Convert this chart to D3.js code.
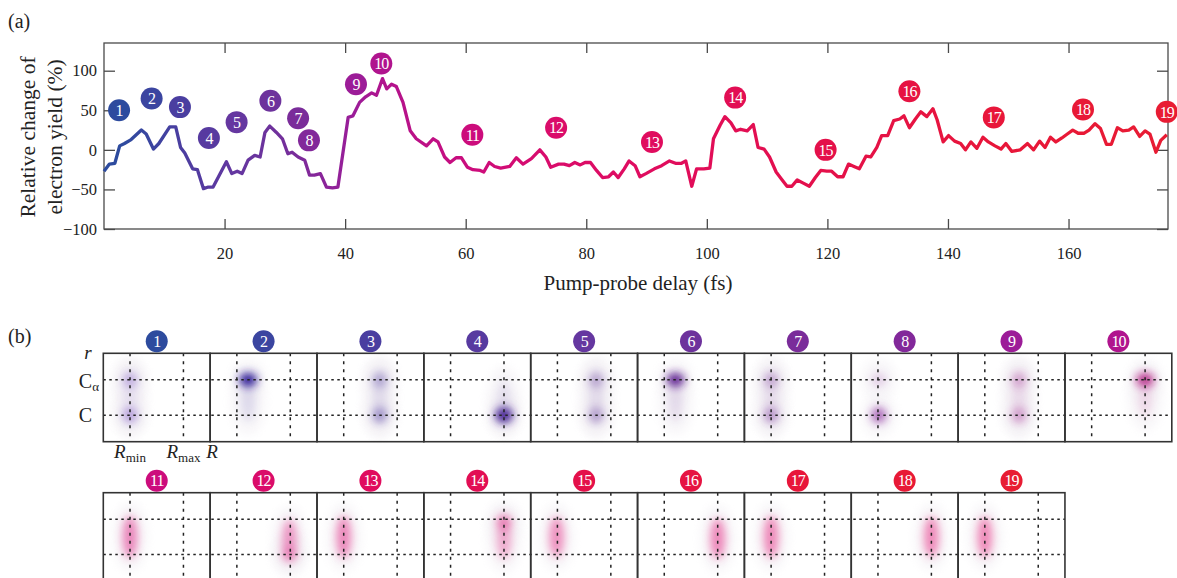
<!DOCTYPE html>
<html>
<head>
<meta charset="utf-8">
<script src="https://cdn.jsdelivr.net/npm/d3@7"></script>
<style>
  body { margin: 0; background: #fff; }
  text { font-family: "Liberation Serif", "Times New Roman", Times, "DejaVu Serif", serif; fill: #222; }
</style>
</head>
<body>
<svg id="chart" width="1177" height="578"></svg>
<script>
// ---- panel (a) data: pump-probe delay (fs) vs relative change of yield (%)
const delay = [0, 0.9, 1.8, 2.6, 3.4, 4.5, 6.2, 7.0, 8.2, 9.1, 10.9, 11.9, 12.7, 13.4, 14.7, 15.5, 16.5, 17.3, 18.1,
  20.3, 21.2, 22.1, 22.9, 23.9, 25.0, 25.9, 26.7, 27.5, 28.6, 29.6, 30.5, 31.2, 32.2, 33.3, 34.1, 34.9, 35.9, 36.9,
  37.9, 38.8, 40.5, 41.3, 42.4, 43.4, 44.4, 45.2, 46.2, 46.9, 47.7, 48.5, 49.6, 50.8, 51.8, 53.5, 54.6, 55.4, 56.5,
  57.4, 58.4, 59.3, 60.3, 61.2, 62.4, 63.0, 63.9, 64.8, 65.8, 67.3, 68.4, 69.5, 70.9, 72.3, 73.3, 74.1, 75.4, 76.3,
  77.2, 78.1, 79.0, 79.8, 80.7, 81.7, 82.7, 83.7, 84.5, 85.3, 86.3, 87.1, 88.1, 88.9, 89.9, 91.3, 92.5, 93.8, 94.8,
  95.8, 96.5, 97.5, 98.3, 99.5, 100.5, 101.1, 102.2, 103.0, 104.0, 104.8, 105.6, 106.7, 107.7, 108.5, 109.5, 110.4,
  111.5, 112.4, 113.3, 114.1, 115.0, 116.0, 117.0, 118.0, 118.9, 119.9, 120.7, 121.7, 122.6, 123.5, 124.4, 125.3,
  126.4, 127.2, 128.2, 129.0, 130.0, 131.0, 132.0, 132.7, 133.6, 134.6, 135.5, 136.5, 137.5, 138.2, 139.2, 140.1,
  141.1, 142.1, 142.9, 143.8, 144.8, 145.8, 146.7, 147.8, 148.8, 149.6, 150.6, 152.0, 153.2, 154.2, 155.2, 156.1,
  157.0, 157.9, 158.9, 159.8, 160.7, 161.6, 162.6, 163.4, 164.4, 165.3, 166.3, 167.1, 168.1, 169.0, 170.0, 170.8,
  171.8, 172.7, 173.5, 174.5, 175.3, 176.3];
const change = [-27, -18, -17, 5, 8, 13, 25, 20, 1, 8, 29, 29, 3, -4, -24, -25, -49, -47, -47,
  -15, -30, -27, -30, -13, -7, -9, 22, 30, 22, 14, -5, -3, -9, -13, -32, -32, -30, -47,
  -48, -47, 41, 43, 60, 67, 72, 69, 90, 77, 83, 80, 60, 24, 14, 5, 14, 10, -9,
  -16, -10, -10, -22, -25, -26, -28, -16, -21, -23, -21, -10, -18, -11, 0, -9, -22, -18, -18,
  -20, -16, -19, -16, -16, -26, -35, -34, -28, -35, -24, -14, -20, -34, -30, -24, -20, -14, -17,
  -17, -14, -46, -24, -24, -23, 14, 31, 42, 34, 24, 26, 24, 32, 3, 1, -9,
  -28, -37, -46, -46, -38, -42, -46, -35, -26, -27, -27, -34, -34, -18, -21, -24,
  -8, -9, 3, 18, 18, 37, 39, 43, 28, 39, 48, 42, 52, 38, 10, 18,
  11, 8, 0, 10, 2, 16, 10, 5, 1, 8, -2, 0, 8, 0, 11, 3,
  16, 10, 15, 20, 25, 21, 21, 25, 33, 27, 7, 7, 28, 24, 25, 29,
  17, 24, 20, -3, 12, 19];

const labelDelay = [2.5, 7.9, 12.6, 17.4, 22.0, 27.6, 32.2, 34.0, 41.8, 46.0, 61.1, 75.0, 90.9, 104.7, 119.7, 133.6, 147.6, 162.4, 176.3];
const labelChange = [50, 65, 54, 15, 35, 62, 40, 12, 83, 109, 19, 28, 10, 66, 0, 74, 41, 51, 48];
const labelColors = ['#2d4b9e', '#3b45a0', '#4a3ea0', '#573aa0', '#6537a0', '#6d329c', '#7a2c9a', '#82289a', '#9c1c98',
  '#b0148e', '#cc0c7c', '#da0c6a', '#e00c5e', '#e20e54', '#e4104a', '#e61342', '#e8163a', '#e81936', '#e81c33'];

const xTicks = [20, 40, 60, 80, 100, 120, 140, 160];
const yTicks = [-100, -50, 0, 50, 100];

// ---- panel (b) data: density blobs, R in units (Rmin = 1, Rmax = 3), r in units (Cα = 3, C = 7)
const blobPanel = [1, 1, 1, 2, 2, 3, 3, 3, 4, 4, 5, 5, 5, 6, 6, 7, 7, 7, 8, 8, 9, 9, 9, 10, 10,
  11, 12, 12, 13, 14, 14, 15, 16, 17, 18, 19];
const blobR = [1, 1, 1, 1.42, 1.42, 2.35, 2.35, 2.35, 3, 3, 2.45, 2.45, 2.45, 1.42, 1.42, 1, 1, 1, 1.03, 1.03, 2.28, 2.28, 2.28, 3, 3,
  1, 2.97, 2.97, 1, 3, 3, 0.97, 3, 1, 3, 1];
const blobLevel = [3, 7, 5, 3, 5.5, 3, 7, 5, 7, 5.5, 3, 7, 5, 3, 5.5, 3, 7, 5, 3, 7, 3, 7, 5, 3, 5,
  5, 5.3, 7, 5, 3.3, 5.3, 5, 5.2, 5, 5, 5];
const blobHeight = [0.9, 0.9, 3, 0.8, 2.2, 0.9, 0.9, 3, 0.9, 2.5, 0.9, 0.9, 3, 0.8, 2.2, 0.9, 0.9, 3, 0.8, 0.9, 0.9, 0.9, 3, 0.8, 2.2,
  2.4, 2.3, 0.9, 2.4, 0.9, 2.2, 2.3, 2.3, 2.4, 2.3, 2.3];
const blobWeight = [0.35, 0.45, 0.1, 1, 0.12, 0.3, 0.4, 0.1, 1, 0.1, 0.3, 0.35, 0.1, 0.95, 0.12, 0.3, 0.4, 0.1, 0.2, 0.7, 0.3, 0.35, 0.1, 0.85, 0.12,
  0.6, 0.5, 0.35, 0.6, 0.55, 0.4, 0.55, 0.6, 0.6, 0.6, 0.6];

const svg = d3.select('#chart');
const axisColor = '#4a4a4a';

// ================= panel (a)
const x = d3.scaleLinear().domain([0, 176.5]).range([104, 1168]);
const y = d3.scaleLinear().domain([-100, 135]).range([229, 43]);

svg.append('text').attr('x', 8).attr('y', 28).style('font-size', '20px').text('(a)');

const defs = svg.append('defs');
const grad = defs.append('linearGradient')
  .attr('id', 'lineGrad')
  .attr('gradientUnits', 'userSpaceOnUse')
  .attr('x1', x(0)).attr('x2', x(176.5)).attr('y1', 0).attr('y2', 0);
grad.selectAll('stop')
  .data(labelDelay)
  .enter()
  .append('stop')
  .attr('offset', d => (x(d) - x(0)) / (x(176.5) - x(0)))
  .attr('stop-color', (d, i) => labelColors[i]);

// axes: ticks point inward on all four sides
const bottomAxis = svg.append('g')
  .attr('transform', `translate(0, ${y(-100)})`)
  .call(d3.axisBottom(x).tickValues(xTicks).tickSizeInner(-10).tickSizeOuter(0).tickPadding(18));
const topAxis = svg.append('g')
  .attr('transform', `translate(0, ${y(135)})`)
  .call(d3.axisTop(x).tickValues(xTicks).tickSizeInner(-10).tickSizeOuter(0).tickFormat(''));
const leftAxis = svg.append('g')
  .attr('transform', `translate(${x(0)}, 0)`)
  .call(d3.axisLeft(y).tickValues(yTicks).tickSizeInner(-11).tickSizeOuter(0).tickPadding(7));
const rightAxis = svg.append('g')
  .attr('transform', `translate(${x(176.5)}, 0)`)
  .call(d3.axisRight(y).tickValues(yTicks).tickSizeInner(-11).tickSizeOuter(0).tickFormat(''));

[bottomAxis, topAxis, leftAxis, rightAxis].forEach(g => {
  g.attr('font-family', null);
  g.select('.domain').remove();
  g.selectAll('.tick line').attr('stroke', axisColor).attr('stroke-width', 1.3);
  g.selectAll('.tick text')
    .style('font-size', '16.5px')
    .attr('fill', '#222');
});

svg.append('rect')
  .attr('x', x(0)).attr('y', y(135))
  .attr('width', x(176.5) - x(0)).attr('height', y(-100) - y(135))
  .attr('fill', 'none').attr('stroke', axisColor).attr('stroke-width', 1.3);

// axis titles
svg.append('text')
  .attr('x', (x(0) + x(176.5)) / 2 + 2).attr('y', 290)
  .attr('text-anchor', 'middle')
  .style('font-size', '21px')
  .text('Pump-probe delay (fs)');
const yTitle = svg.append('text')
  .attr('transform', 'translate(0, 137) rotate(-90)')
  .attr('text-anchor', 'middle')
  .style('font-size', '21.5px');
yTitle.append('tspan').attr('x', 0).attr('y', 35).text('Relative change of');
yTitle.append('tspan').attr('x', 0).attr('y', 62).text('electron yield (%)');

// the curve
const line = d3.line()
  .x((d, i) => x(delay[i]))
  .y(d => y(d));
svg.append('path')
  .datum(change)
  .attr('d', line)
  .attr('fill', 'none')
  .attr('stroke', 'url(#lineGrad)')
  .attr('stroke-width', 3.3)
  .attr('stroke-linejoin', 'round');

// numbered markers
const marks = svg.selectAll('.mark')
  .data(labelDelay)
  .enter()
  .append('g')
  .attr('class', 'mark')
  .attr('transform', (d, i) => `translate(${x(d)}, ${y(labelChange[i])})`);
marks.append('circle').attr('r', 11).attr('fill', (d, i) => labelColors[i]);
marks.append('text')
  .attr('text-anchor', 'middle')
  .attr('dy', '0.36em')
  .style('font-size', '16px')
  .style('fill', '#fff')
  .style('letter-spacing', '-1px')
  .text((d, i) => i + 1);

// ================= panel (b)
svg.append('text').attr('x', 8).attr('y', 343).style('font-size', '20px').text('(b)');

const rowTop = [353.3, 492.7];
const boxW = 106.85;
const boxH = 88.4;
const col = d3.scaleLinear().domain([0, 10]).range([103.3, 103.3 + 10 * boxW]);
const bx = d3.scaleLinear().domain([0, 4]).range([0, boxW]);
const by = d3.scaleLinear().domain([0, 10]).range([0, boxH]);
const blobColor = d3.scaleLinear()
  .domain([1, 2, 4, 6, 8, 10, 11, 19])
  .range(['#7a50c4', '#2e1f96', '#4a2596', '#5a1f8e', '#8a2a9e', '#b0127e', '#e03a92', '#e8408e']);

const panels = d3.range(1, 20);
const panelLeft = p => col((p - 1) % 10);
const panelTop = p => rowTop[p <= 10 ? 0 : 1];

defs.append('filter').attr('id', 'soft')
  .attr('x', '-100%').attr('y', '-100%').attr('width', '300%').attr('height', '300%')
  .append('feGaussianBlur').attr('stdDeviation', 4);

// halo around every blob
svg.append('g').selectAll('ellipse')
  .data(blobPanel)
  .enter()
  .append('ellipse')
  .attr('cx', (p, i) => panelLeft(p) + bx(blobR[i]))
  .attr('cy', (p, i) => panelTop(p) + by(blobLevel[i]))
  .attr('rx', 18)
  .attr('ry', (p, i) => by(blobHeight[i]) + 14)
  .attr('fill', '#eeeaf0')
  .attr('opacity', 0.4)
  .attr('filter', 'url(#soft)');

svg.append('g').selectAll('ellipse')
  .data(blobPanel)
  .enter()
  .append('ellipse')
  .attr('cx', (p, i) => panelLeft(p) + bx(blobR[i]))
  .attr('cy', (p, i) => panelTop(p) + by(blobLevel[i]))
  .attr('rx', (p, i) => blobWeight[i] > 0.8 ? 9 : 7.5)
  .attr('ry', (p, i) => by(blobHeight[i]))
  .attr('fill', p => blobColor(p))
  .attr('opacity', (p, i) => blobWeight[i])
  .attr('filter', 'url(#soft)');

// dashed guides
const guides = svg.append('g')
  .attr('stroke', '#222')
  .attr('stroke-width', 1.5)
  .attr('fill', 'none');
rowTop.forEach((top, r) => {
  const n = r === 0 ? 10 : 9;
  [3, 7].forEach(level => {
    guides.append('line')
      .attr('x1', col(0)).attr('x2', col(n))
      .attr('y1', top + by(level)).attr('y2', top + by(level))
      .attr('stroke-dasharray', '2.5,3.5');
  });
});
panels.forEach(p => {
  [1, 3].forEach(rv => {
    guides.append('line')
      .attr('x1', panelLeft(p) + bx(rv)).attr('x2', panelLeft(p) + bx(rv))
      .attr('y1', panelTop(p)).attr('y2', panelTop(p) + boxH)
      .attr('stroke-dasharray', '3,5');
  });
});

// boxes
svg.append('g').selectAll('rect')
  .data(panels)
  .enter()
  .append('rect')
  .attr('x', p => panelLeft(p))
  .attr('y', p => panelTop(p))
  .attr('width', boxW)
  .attr('height', boxH)
  .attr('fill', 'none')
  .attr('stroke', '#333')
  .attr('stroke-width', 1.6);

// numbered headers
const heads = svg.selectAll('.head')
  .data(panels)
  .enter()
  .append('g')
  .attr('class', 'head')
  .attr('transform', p => `translate(${panelLeft(p) + boxW / 2}, ${panelTop(p) - 12})`);
heads.append('circle').attr('r', 11).attr('fill', p => labelColors[p - 1]);
heads.append('text')
  .attr('text-anchor', 'middle')
  .attr('dy', '0.36em')
  .style('font-size', '16px')
  .style('fill', '#fff')
  .style('letter-spacing', '-1px')
  .text(p => p);

// axis symbols of the first box
const top0 = rowTop[0];
svg.append('text')
  .attr('x', 88).attr('y', top0 + 6)
  .attr('text-anchor', 'middle')
  .style('font-size', '19px').style('font-style', 'italic')
  .text('r');
const ca = svg.append('text')
  .attr('x', 99).attr('y', top0 + by(3) + 8)
  .attr('text-anchor', 'end')
  .style('font-size', '20px');
ca.append('tspan').text('C');
ca.append('tspan').attr('dy', 3).style('font-size', '13px').text('α');
svg.append('text')
  .attr('x', 92).attr('y', top0 + by(7) + 7)
  .attr('text-anchor', 'end')
  .style('font-size', '20px')
  .text('C');

const rLabels = [[1, 'min'], [3, 'max'], [4, '']];
rLabels.forEach(([rv, sub]) => {
  const t = svg.append('text')
    .attr('x', col(0) + bx(rv) + (sub ? 0 : 2))
    .attr('y', top0 + boxH + 16)
    .attr('text-anchor', 'middle')
    .style('font-size', '19px');
  t.append('tspan').style('font-style', 'italic').text('R');
  if (sub) t.append('tspan').attr('dy', 4).style('font-size', '13px').text(sub);
});
</script>
</body>
</html>
